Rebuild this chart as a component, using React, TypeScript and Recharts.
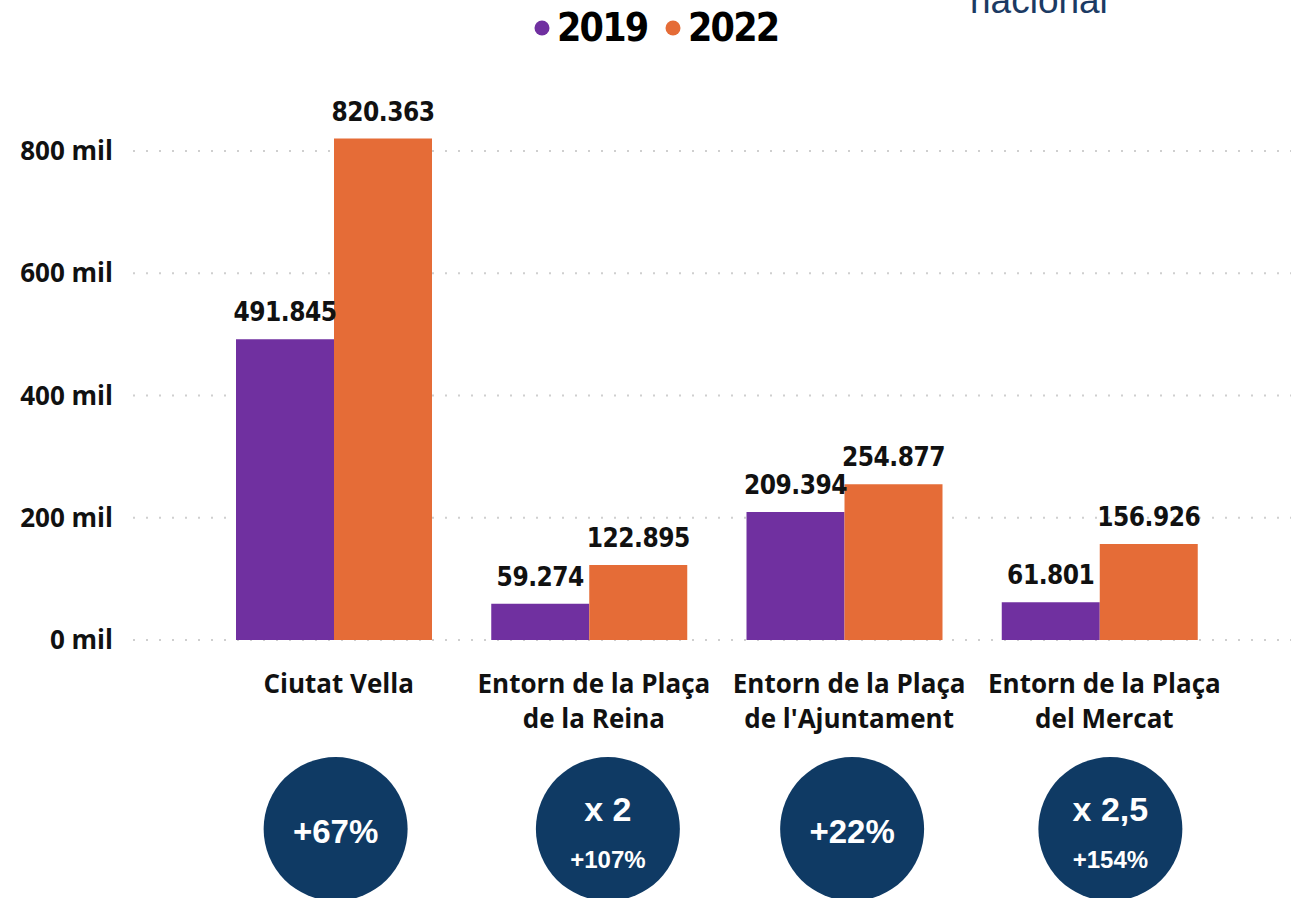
import { Bar, BarChart, CartesianGrid, LabelList, Legend, XAxis, YAxis } from "recharts";

const categories = [
  "Ciutat Vella",
  "Entorn de la Plaça\nde la Reina",
  "Entorn de la Plaça\nde l'Ajuntament",
  "Entorn de la Plaça\ndel Mercat"
];
const visitors2019 = [491845, 59274, 209394, 61801];
const visitors2022 = [820363, 122895, 254877, 156926];
const yTicks = [0, 200000, 400000, 600000, 800000];
const badgeMain = ["+67%", "x 2", "+22%", "x 2,5"];
const badgeSub = ["", "+107%", "", "+154%"];

const PURPLE = "#7030A0";
const ORANGE = "#E56C37";
const NAVY = "#0F3A64";
const DIN = "'DejaVu Sans Condensed', 'DejaVu Sans', sans-serif";
const SEGOE = "'Open Sans', 'Noto Sans', sans-serif";

// little nudge of each badge relative to its category centre
const BADGE_SHIFT = [2, 19, 8, 11];

const data = categories.map((name, i) => ({
  name,
  y2019: visitors2019[i],
  y2022: visitors2022[i]
}));

const fmt = (v: number) => String(v).replace(/\B(?=(\d{3})+(?!\d))/g, ".");

function CategoryTick(props: any) {
  const { x, y, payload, index } = props;
  const lines = String(payload.value).split("\n");
  const bx = x + BADGE_SHIFT[index];
  const sub = badgeSub[index];
  return (
    <g>
      <text
        x={x + 5}
        y={y + 45}
        textAnchor="middle"
        fill="#111"
        fontFamily={SEGOE}
        fontWeight={700}
        fontSize={26}
      >
        {lines.map((l, i) => (
          <tspan key={i} x={x + 5} dy={i === 0 ? 0 : 35}>
            {l}
          </tspan>
        ))}
      </text>
      <circle cx={bx} cy={y + 181} r={72} fill={NAVY} />
      {sub ? (
        <>
          <text x={bx} y={y + 173} textAnchor="middle" fill="#fff" fontFamily="'Liberation Sans', Arial" fontWeight={700} fontSize={34}>
            {badgeMain[index]}
          </text>
          <text x={bx} y={y + 220} textAnchor="middle" fill="#fff" fontFamily="'Liberation Sans', Arial" fontWeight={700} fontSize={24}>
            {sub}
          </text>
        </>
      ) : (
        <text x={bx} y={y + 195} textAnchor="middle" fill="#fff" fontFamily="'Liberation Sans', Arial" fontWeight={700} fontSize={33}>
          {badgeMain[index]}
        </text>
      )}
    </g>
  );
}

function YearLegend(props: any) {
  const items = props.payload || [];
  return (
    <svg width={270} height={50}>
      {items.map((it: any, i: number) => (
        <g key={it.value} transform={`translate(${i * 131},0)`}>
          <circle cx={14} cy={28} r={7.5} fill={it.color} />
          <text x={29} y={41} fontFamily={DIN} fontWeight={700} fontSize={39} letterSpacing={-1.8} fill="#000">
            {it.value}
          </text>
        </g>
      ))}
    </svg>
  );
}

export default function App() {
  return (
    <div style={{ position: "absolute", left: 0, top: 0, width: 1291, height: 898, background: "#fff" }}>
      <svg style={{ position: "absolute", left: 0, top: 0 }} width={1291} height={40}>
        <text x={970} y={13} fontFamily="'Liberation Sans', Arial" fontSize={37} fill="#1B3A63">
          nacional
        </text>
      </svg>
      <BarChart
        width={1291}
        height={898}
        data={data}
        margin={{ top: 28.75, right: 0, left: 0, bottom: 0 }}
        barGap={0}
      >
        <CartesianGrid
          vertical={false}
          horizontalValues={yTicks}
          stroke="#cfcfcf"
          strokeWidth={2}
          strokeDasharray="2 11"
        />
        <XAxis
          dataKey="name"
          height={258}
          axisLine={false}
          tickLine={false}
          interval={0}
          padding={{ left: 73, right: 64 }}
          tick={<CategoryTick />}
        />
        <YAxis
          width={133}
          domain={[0, 1000000]}
          ticks={yTicks}
          axisLine={false}
          tickLine={false}
          tickMargin={14}
          tickFormatter={(v: number) => `${v / 1000} mil`}
          tick={{ fill: "#111", fontFamily: SEGOE, fontWeight: 700, fontSize: 26 }}
        />
        <Legend
          verticalAlign="middle"
          content={<YearLegend />}
          wrapperStyle={{ top: 0, left: 528, width: 270, height: 50 }}
        />
        <Bar dataKey="y2019" name="2019" fill={PURPLE} barSize={98} isAnimationActive={false}>
          <LabelList
            dataKey="y2019"
            position="top"
            offset={18}
            formatter={(v: any) => fmt(Number(v))}
            style={{ fill: "#111", fontFamily: DIN, fontWeight: 700, fontSize: 26, letterSpacing: -0.5 }}
          />
        </Bar>
        <Bar dataKey="y2022" name="2022" fill={ORANGE} barSize={98} isAnimationActive={false}>
          <LabelList
            dataKey="y2022"
            position="top"
            offset={18}
            formatter={(v: any) => fmt(Number(v))}
            style={{ fill: "#111", fontFamily: DIN, fontWeight: 700, fontSize: 26, letterSpacing: -0.5 }}
          />
        </Bar>
      </BarChart>
    </div>
  );
}
